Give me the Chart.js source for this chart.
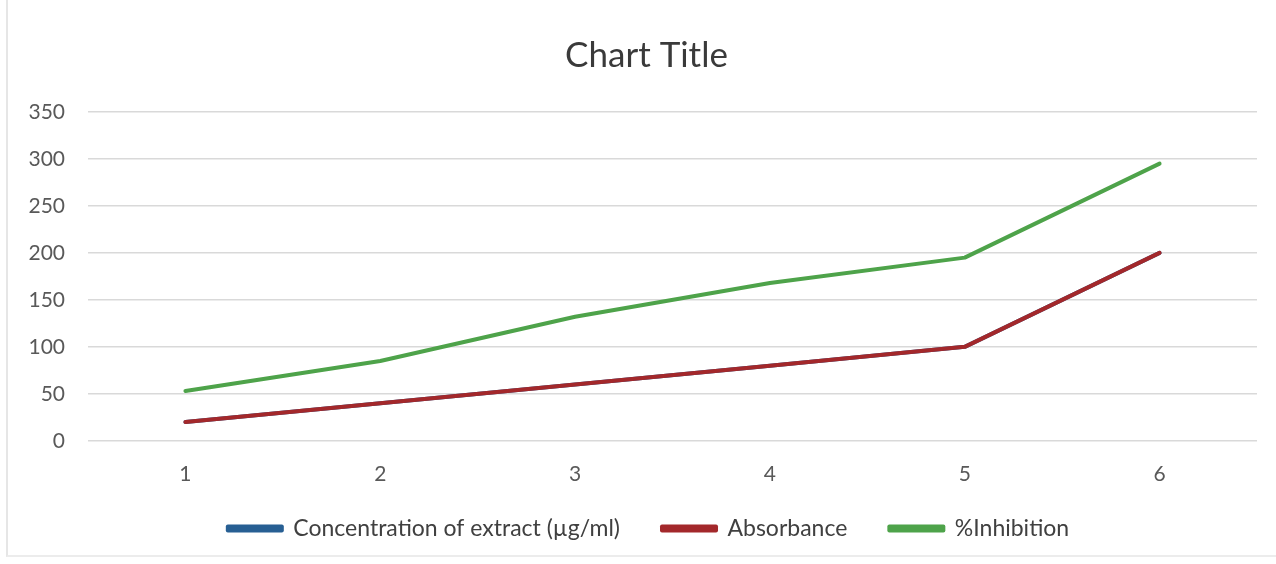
<!DOCTYPE html>
<html><head><meta charset="utf-8">
<script src="https://cdn.jsdelivr.net/npm/chart.js@4"></script>
<style>
html,body{margin:0;padding:0;background:#fff;}
#wrap{position:absolute;left:0;top:0;width:1276px;height:564px;}
#frame{position:absolute;left:6px;top:0;width:1270px;height:557px;border-left:2px solid #e6e6e6;border-bottom:2px solid #ececec;box-sizing:border-box;pointer-events:none;}
</style></head><body>
<div id="wrap"><canvas id="c" width="1276" height="564"></canvas><div id="frame"></div></div>
<script>
const categories = ['1','2','3','4','5','6'];
const concentration = [20, 40, 60, 80, 100, 200];
const absorbance = [20, 40, 60, 80, 100, 200];
const inhibition = [53, 85, 132, 168, 195, 295];
const yTicks = [0, 50, 100, 150, 200, 250, 300, 350];

const font = "Lato, 'Open Sans', sans-serif";
const boxNudge = {
  id: 'boxNudge',
  afterLayout(chart) {
    const lg = chart.legend;
    if (lg) { lg.top -= 25; lg.bottom -= 25; lg.left += 14; lg.right += 14; }
    const tb = chart.titleBlock;
    if (tb) { tb.left += 12; tb.right += 12; }
  }
};
new Chart(document.getElementById('c'), {
  type: 'line',
  data: {
    labels: categories,
    datasets: [
      {label: 'Concentration of extract (µg/ml)', data: concentration, borderColor: '#275f93', backgroundColor: '#275f93', order: 3},
      {label: 'Absorbance', data: absorbance, borderColor: '#a3282b', backgroundColor: '#a3282b', order: 2},
      {label: '%Inhibition', data: inhibition, borderColor: '#4ea34a', backgroundColor: '#4ea34a', order: 1}
    ]
  },
  plugins: [boxNudge],
  options: {
    responsive: false,
    animation: false,
    devicePixelRatio: 1,
    elements: {line: {borderWidth: 4, tension: 0, borderCapStyle: 'round', borderJoinStyle: 'round'}, point: {radius: 0}},
    layout: {padding: {left: 12, right: 19, top: 0, bottom: -11}},
    plugins: {
      title: {display: true, text: 'Chart Title', color: '#3a3a3a', font: {family: font, size: 35, weight: 'normal'}, padding: {top: 35, bottom: 35}},
      legend: {position: 'bottom', labels: {boxWidth: 54, boxHeight: 4, padding: 42, color: '#404040', font: {family: font, size: 23},
        sort: (a, b) => a.datasetIndex - b.datasetIndex}},
      tooltip: {enabled: false}
    },
    scales: {
      x: {offset: true, grid: {display: false}, border: {display: false}, ticks: {color: '#595959', font: {family: font, size: 21}, padding: 13}},
      y: {min: 0, max: 350, afterBuildTicks: (s) => { s.ticks = yTicks.map(v => ({value: v})); },
          afterFit: (s) => { s.width = 76; },
          grid: {color: '#d9d9d9', lineWidth: 1.5, drawTicks: false}, border: {display: false},
          ticks: {color: '#595959', font: {family: font, size: 21}, padding: 23}}
    }
  }
});
</script>
</body></html>
